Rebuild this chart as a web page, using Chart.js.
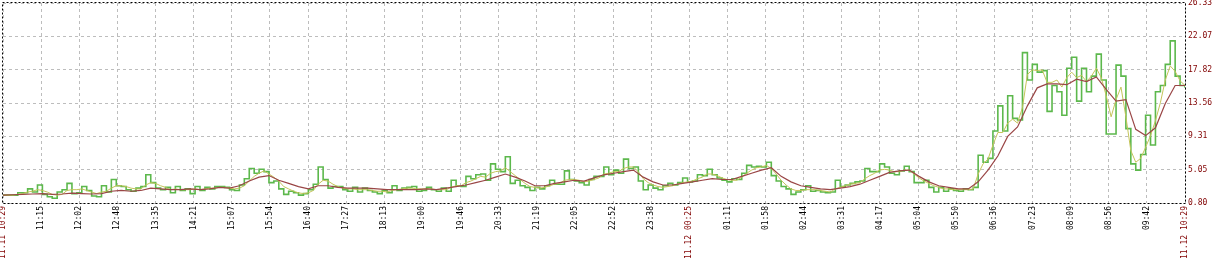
<!DOCTYPE html>
<html>
<head>
<meta charset="utf-8">
<title>24h trend</title>
<script src="https://cdn.jsdelivr.net/npm/chart.js@4.4.1/dist/chart.umd.min.js"></script>
<style>
    html, body { margin: 0; padding: 0; background: #fff; }
    #wrap { width: 1220px; height: 260px; position: relative; }
</style>
</head>
<body>
<div id="wrap"><canvas id="chart"></canvas></div>
<script>
// Time axis runs in minutes from 11.11 10:29 to 11.12 10:29
const SPAN_MINUTES = 1440;
const xTickLabels = [
    '11.11 10:29', '11:15', '12:02', '12:48', '13:35', '14:21', '15:07', '15:54',
    '16:40', '17:27', '18:13', '19:00', '19:46', '20:33', '21:19', '22:05',
    '22:52', '23:38', '11.12 00:25', '01:11', '01:58', '02:44', '03:31', '04:17',
    '05:04', '05:50', '06:36', '07:23', '08:09', '08:56', '09:42', '11.12 10:29'
];
const yTickValues = [0.80, 5.05, 9.31, 13.56, 17.82, 22.07, 26.33];

// Raw readings, one every 6 minutes (green, stepped)
const rawStep = 6;
const rawValues = [
    1.8, 1.8, 1.8, 2.1, 2.1, 2.6, 2.2, 3.1, 1.9, 1.6, 1.4, 2.2, 2.5, 3.3, 2.0, 2.1, 2.9, 2.4, 1.7, 1.6,
    3.0, 2.2, 3.8, 3.0, 2.9, 2.5, 2.3, 2.7, 2.9, 4.4, 3.4, 2.7, 2.5, 2.8, 2.1, 2.9, 2.4, 2.6, 2.0, 2.9,
    2.4, 2.8, 2.6,
    2.9, 2.9, 2.8, 2.5, 2.4, 3.1, 3.9, 5.2, 4.6, 5.1, 4.8, 3.4, 3.6, 2.6, 1.9, 2.3, 2.1, 1.8, 2.0, 2.5,
    3.2, 5.4, 3.8, 2.7, 2.9, 2.9, 2.5, 2.3, 2.8, 2.2, 2.7, 2.4, 2.2, 2.0, 2.4, 2.1, 3.0, 2.4, 2.7, 2.8,
    2.9, 2.3, 2.4, 2.8,
    2.5, 2.3, 2.7, 2.3, 3.7, 3.0, 2.9, 4.2, 3.9, 4.4, 4.5, 3.7, 5.8, 5.1, 4.8, 6.7, 3.3, 3.7, 3.0, 2.8,
    2.4, 2.8, 2.6, 3.0, 3.7, 3.2, 3.2, 4.9, 3.8, 3.6, 3.4, 3.1, 3.8, 4.2, 4.2, 5.4, 4.4, 5.0, 4.6, 6.4,
    5.2, 5.4, 3.6, 2.5,
    3.1, 2.7, 2.5, 3.0, 3.3, 3.1, 3.4, 4.0, 3.5, 3.6, 4.4, 4.3, 5.1, 4.4, 4.0, 3.7, 3.5, 3.9, 3.8, 4.6,
    5.6, 5.4, 5.5, 5.4, 6.0, 4.3, 3.6, 2.9, 2.6, 1.9, 2.2, 2.5, 3.0, 2.3, 2.4, 2.2, 2.1, 2.2, 3.7, 2.9,
    3.1, 3.3, 3.5,
    3.6, 5.2, 4.8, 4.8, 5.8, 5.4, 4.6, 4.4, 4.9, 5.5, 4.8, 3.4, 3.4, 3.7, 2.8, 2.2, 2.8, 2.3, 2.6, 2.4,
    2.3, 2.6, 2.5, 2.8, 6.9, 6.0, 6.5, 10.0, 13.2, 10.0,
    14.5, 11.6, 11.4, 20.0, 16.5, 18.5, 17.5, 17.7, 12.5, 15.8, 15.0, 12.0, 18.0, 19.4, 13.8, 18.0,
    15.0, 17.0, 19.8,
    16.5, 9.6, 9.6, 18.4, 17.0, 10.3, 5.8, 5.0, 7.0, 12.0, 8.2, 15.0, 15.8, 18.5, 21.5, 17.0, 15.8, 15.5
];

// Short average, same 6 minute spacing (yellow)
const shortAvgValues = [
    1.8, 1.8, 1.8, 1.9, 2.0, 2.2, 2.3, 2.5, 2.4, 2.2, 1.9, 1.8, 1.9, 2.4, 2.5, 2.5, 2.6, 2.4, 2.2, 2.0,
    2.2, 2.3, 2.7, 3.0, 3.0, 2.9, 2.7, 2.6, 2.6, 3.1, 3.4, 3.3, 3.0, 2.8, 2.5, 2.6, 2.5, 2.5, 2.5, 2.6,
    2.5, 2.6, 2.7,
    2.7, 2.8, 2.8, 2.7, 2.6, 2.7, 3.0, 3.6, 4.2, 4.6, 4.9, 4.5, 4.1, 3.6, 2.9, 2.6, 2.3, 2.1, 2.0, 2.1,
    2.4, 3.2, 3.7, 3.6, 3.2, 2.9, 2.7, 2.6, 2.6, 2.5, 2.5, 2.5, 2.4, 2.3, 2.3, 2.2, 2.4, 2.5, 2.6, 2.7,
    2.7, 2.6, 2.6, 2.6,
    2.6, 2.5, 2.5, 2.5, 2.8, 3.0, 3.0, 3.4, 3.6, 3.9, 4.2, 4.1, 4.6, 4.8, 4.9, 5.3, 4.8, 4.3, 3.8, 3.3,
    2.9, 2.8, 2.7, 2.8, 3.0, 3.2, 3.3, 3.7, 3.8, 3.8, 3.7, 3.5, 3.6, 3.8, 4.0, 4.5, 4.6, 4.8, 4.8, 5.2,
    5.4, 5.4, 4.8, 3.9,
    3.4, 3.1, 2.9, 2.8, 2.9, 3.0, 3.2, 3.4, 3.5, 3.6, 3.9, 4.1, 4.5, 4.5, 4.3, 4.0, 3.8, 3.7, 3.7, 4.1,
    4.6, 5.0, 5.3, 5.4, 5.6, 5.2, 4.5, 3.7, 3.1, 2.6, 2.4, 2.4, 2.5, 2.5, 2.5, 2.4, 2.3, 2.2, 2.6, 2.8,
    3.0, 3.2, 3.3,
    3.4, 3.9, 4.3, 4.6, 5.0, 5.1, 5.0, 4.8, 4.8, 5.0, 5.0, 4.5, 4.0, 3.6, 3.3, 3.0, 2.8, 2.6, 2.6, 2.5,
    2.5, 2.5, 2.5, 2.6, 4.5, 5.8, 6.4, 8.2, 9.8, 9.8,
    11.0, 11.5, 11.0, 13.0, 17.2, 17.8, 17.7, 17.8, 16.2, 16.2, 16.5, 15.6, 16.8, 17.5, 16.8, 17.1,
    16.3, 17.0, 18.0,
    16.8, 14.5, 11.8, 14.0, 15.6, 11.8, 7.5, 6.0, 6.5, 7.9, 9.4, 11.3, 13.6, 16.5, 18.3, 17.6, 16.4, 15.8
];

// Long average, one every 12 minutes (dark red)
const longAvgStep = 12;
const longAvgValues = [
    1.8, 1.85, 1.9, 1.95, 2.0, 1.9, 1.95, 2.05, 2.0, 1.95, 2.0, 2.3, 2.4, 2.3, 2.4, 2.7, 2.6, 2.5, 2.5, 2.6,
    2.5, 2.6,
    2.8, 2.7, 3.0, 3.6, 4.1, 4.3, 3.7, 3.3, 2.9, 2.6, 3.0, 3.0, 2.8, 2.7, 2.7, 2.7, 2.6, 2.5, 2.5, 2.5,
    2.5, 2.6,
    2.5, 2.7, 2.9, 3.1, 3.4, 3.7, 4.1, 4.5, 4.1, 3.6, 3.0, 3.0, 3.3, 3.5, 3.7, 3.6, 4.0, 4.4, 4.6, 4.8,
    5.0, 4.1,
    3.5, 3.1, 3.1, 3.3, 3.5, 3.7, 3.9, 3.8, 3.8, 4.2, 4.6, 5.0, 5.3, 4.2, 3.5, 3.0, 2.8, 2.6, 2.5, 2.7,
    2.9,
    3.2, 3.7, 4.2, 4.7, 4.9, 5.0, 4.2, 3.5, 3.0, 2.8, 2.6, 2.6, 3.5, 5.0, 6.8,
    9.3, 10.5, 13.2, 15.5, 16.0, 16.0, 15.9, 16.6, 16.3, 16.9,
    15.3, 13.8, 14.0, 10.2, 9.4, 10.4, 13.5, 15.8, 15.8
];

const COLORS = {
    raw: '#5cb84c',
    shortAvg: '#c4c45a',
    longAvg: '#9a4646',
    grid: '#bdbdbd',
    dateLabel: '#800000',
    label: '#000000'
};

function toPoints(values, step) {
    return values.map((v, i) => ({ x: i * step, y: v }));
}

// Black dotted frame around the plot area
const dottedFrame = {
    id: 'dottedFrame',
    afterDraw(chart) {
        const { ctx, chartArea: a } = chart;
        ctx.save();
        ctx.strokeStyle = '#000';
        ctx.lineWidth = 1;
        ctx.setLineDash([2, 2]);
        ctx.strokeRect(Math.round(a.left) - 0.5, Math.round(a.top) - 0.5,
            Math.round(a.right - a.left) + 1, Math.round(a.bottom - a.top) + 1);
        ctx.restore();
    }
};

Chart.defaults.font.family = '"DejaVu Sans Mono", monospace';
Chart.defaults.font.size = 8;

new Chart(document.getElementById('chart'), {
    type: 'line',
    data: {
        datasets: [
            {
                label: 'long average',
                data: toPoints(longAvgValues, longAvgStep),
                borderColor: COLORS.longAvg,
                borderWidth: 1.2
            },
            {
                label: 'short average',
                data: toPoints(shortAvgValues, rawStep),
                borderColor: COLORS.shortAvg,
                borderWidth: 1
            },
            {
                label: 'raw',
                data: toPoints(rawValues, rawStep),
                borderColor: COLORS.raw,
                borderWidth: 1.6,
                stepped: true
            }
        ]
    },
    options: {
        responsive: true,
        maintainAspectRatio: false,
        animation: false,
        elements: { point: { radius: 0 }, line: { tension: 0 } },
        layout: { padding: { top: 3, left: 3, right: 0, bottom: 0 } },
        plugins: { legend: { display: false }, tooltip: { enabled: false } },
        scales: {
            x: {
                type: 'linear',
                min: 0,
                max: SPAN_MINUTES,
                grid: { color: COLORS.grid, drawTicks: false },
                border: { display: false, dash: [3, 3] },
                afterBuildTicks: scale => {
                    scale.ticks = xTickLabels.map((_, i) => ({ value: i * SPAN_MINUTES / (xTickLabels.length - 1) }));
                },
                afterFit: scale => {
                    scale.height = 57;
                    scale.paddingLeft = 0;
                    scale.paddingRight = 0;
                },
                ticks: {
                    autoSkip: false,
                    minRotation: 90,
                    maxRotation: 90,
                    padding: 3,
                    color: ctx => xTickLabels[ctx.index].includes('.') ? COLORS.dateLabel : COLORS.label,
                    callback: (value, index) => xTickLabels[index]
                }
            },
            y: {
                position: 'right',
                min: yTickValues[0],
                max: yTickValues[yTickValues.length - 1],
                grid: { color: COLORS.grid, drawTicks: false },
                border: { display: false, dash: [3, 3] },
                afterBuildTicks: scale => {
                    scale.ticks = yTickValues.map(v => ({ value: v }));
                },
                afterFit: scale => {
                    scale.width = 35;
                    scale.paddingTop = 0;
                    scale.paddingBottom = 0;
                },
                ticks: {
                    padding: 3,
                    color: COLORS.dateLabel,
                    callback: value => value.toFixed(2)
                }
            }
        }
    },
    plugins: [dottedFrame]
});
</script>
</body>
</html>
